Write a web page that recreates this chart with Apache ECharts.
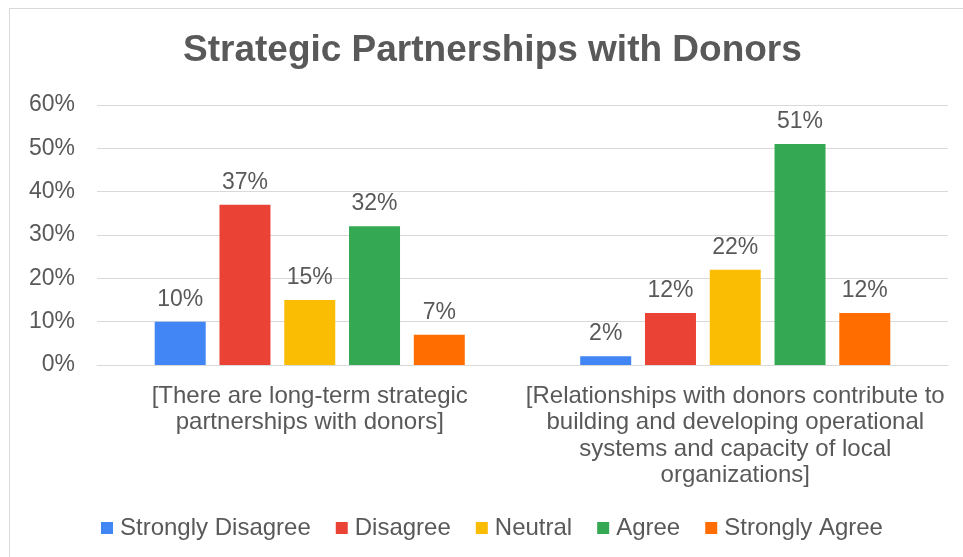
<!DOCTYPE html>
<html>
<head>
<meta charset="utf-8">
<script src="https://cdn.jsdelivr.net/npm/echarts@6/dist/echarts.min.js"></script>
<style>
  html, body { margin: 0; padding: 0; background: #ffffff; }
  #frame { position: absolute; left: 9px; top: 8px; width: 1000px; height: 600px; border: 1px solid #d9d9d9; box-sizing: border-box; }
  #chart { position: absolute; left: 0; top: 0; width: 963px; height: 557px; }
</style>
</head>
<body>
<div id="frame"></div>
<div id="chart"></div>
<script>
// Survey statements (category axis)
const categories = [
  "[There are long-term strategic\npartnerships with donors]",
  "[Relationships with donors contribute to\nbuilding and developing operational\nsystems and capacity of local\norganizations]"
];

// Response shares, percent
const stronglyDisagree = [10, 2];
const disagree = [37, 12];
const neutral = [15, 22];
const agree = [32, 51];
const stronglyAgree = [7, 12];

const seriesNames = ["Strongly Disagree", "Disagree", "Neutral", "Agree", "Strongly Agree"];
const seriesColors = ["#4285F4", "#EA4335", "#FBBC04", "#34A853", "#FF6D01"];
const seriesValues = [stronglyDisagree, disagree, neutral, agree, stronglyAgree];

const yTicks = { min: 0, max: 60, interval: 10 };

const textColor = "#595959";
const fontFamily = "'Liberation Sans', Arial, sans-serif";

const chart = echarts.init(document.getElementById("chart"), null, { renderer: "canvas" });

chart.setOption({
  animation: false,
  textStyle: { fontFamily: fontFamily },
  title: {
    text: "Strategic Partnerships with Donors",
    left: 178,
    top: 27,
    textStyle: { fontSize: 37, fontWeight: "bold", color: textColor, fontFamily: fontFamily }
  },
  legend: {
    bottom: 12,
    left: 96,
    padding: 5,
    icon: "rect",
    itemWidth: 12,
    itemHeight: 12,
    itemGap: 25,
    textStyle: { fontSize: 24, color: textColor, fontFamily: fontFamily, padding: [0, 0, 0, 2] },
    data: seriesNames
  },
  grid: { left: 97, right: 15, top: 105, bottom: 192, containLabel: false },
  xAxis: {
    type: "category",
    data: categories,
    axisLine: { lineStyle: { color: "#d9d9d9" } },
    axisTick: { show: false },
    axisLabel: {
      interval: 0,
      margin: 18,
      fontSize: 24,
      lineHeight: 26.5,
      color: textColor,
      fontFamily: fontFamily,
      align: "center"
    }
  },
  yAxis: {
    type: "value",
    min: yTicks.min,
    max: yTicks.max,
    interval: yTicks.interval,
    axisLine: { show: false },
    axisTick: { show: false },
    splitLine: { lineStyle: { color: "#d9d9d9" } },
    axisLabel: {
      formatter: "{value}%",
      margin: 22,
      fontSize: 23,
      color: textColor,
      fontFamily: fontFamily
    }
  },
  series: seriesNames.map((name, i) => ({
    name: name,
    type: "bar",
    data: seriesValues[i],
    barWidth: 51,
    barGap: "27%",
    itemStyle: { color: seriesColors[i] },
    label: {
      show: true,
      position: "top",
      distance: 11,
      formatter: "{c}%",
      fontSize: 23,
      color: textColor,
      fontFamily: fontFamily
    }
  }))
});
</script>
</body>
</html>
